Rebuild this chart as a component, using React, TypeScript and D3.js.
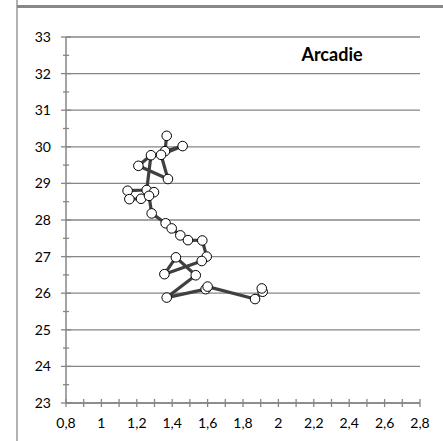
import * as d3 from 'd3';

// points in drawing order (x, depth value)
const xValues = [
  1.369, 1.359, 1.459, 1.337, 1.376, 1.209, 1.28, 1.256, 1.148, 1.158, 1.224, 1.297, 1.269,
  1.284, 1.363, 1.397, 1.446, 1.489, 1.57, 1.595, 1.567, 1.356, 1.421, 1.533, 1.369, 1.589,
  1.6, 1.868, 1.911, 1.906,
];
const yValues = [
  30.3, 29.88, 30.02, 29.78, 29.12, 29.48, 29.77, 28.82, 28.8, 28.57, 28.58, 28.76, 28.66,
  28.18, 27.91, 27.77, 27.58, 27.45, 27.44, 27.0, 26.88, 26.52, 26.98, 26.49, 25.88, 26.11,
  26.18, 25.84, 26.04, 26.13,
];
const xTicks = [0.8, 1, 1.2, 1.4, 1.6, 1.8, 2, 2.2, 2.4, 2.6, 2.8];
const yTicks = [23, 24, 25, 26, 27, 28, 29, 30, 31, 32, 33];
const title = 'Arcadie';

const W = 443;
const H = 441;
const font = 'Lato, Carlito, "Open Sans", sans-serif';
const grey = '#868686';

export default function App() {
  const x = d3.scaleLinear().domain([0.8, 2.8]).range([66, 420]);
  const y = d3.scaleLinear().domain([23, 33]).range([403, 37]);

  const pts = xValues.map((v, i) => [v, yValues[i]] as [number, number]);
  const line = d3
    .line<[number, number]>()
    .x((d) => x(d[0]))
    .y((d) => y(d[1]));

  const xMinor = d3.range(8, 29).map((v) => v / 10);
  const yMinor = d3.range(46, 67).map((v) => v / 2);
  const fmt = (v: number) => String(v).replace('.', ',');

  return (
    <svg
      width={W}
      height={H}
      style={{ position: 'absolute', left: 0, top: 0, background: '#fff' }}
    >
      {/* frame */}
      <line x1={17} x2={17} y1={0} y2={H} stroke="#999" strokeWidth={1.5} />
      <line x1={17} x2={W} y1={6.5} y2={6.5} stroke="#888" strokeWidth={3} />

      {/* gridlines */}
      {yTicks.map((t) => (
        <line key={'g' + t} x1={x(0.8)} x2={x(2.8)} y1={y(t)} y2={y(t)} stroke={grey} strokeWidth={1.3} />
      ))}

      {/* axes */}
      <line x1={x(0.8)} x2={x(0.8)} y1={y(23)} y2={y(33)} stroke={grey} strokeWidth={1.5} />
      <line x1={x(0.8)} x2={x(2.8)} y1={y(23)} y2={y(23)} stroke={grey} strokeWidth={1.5} />
      {yMinor.map((t) => (
        <line key={'ym' + t} x1={x(0.8) - (t % 1 === 0 ? 5 : 3)} x2={x(0.8) + (t % 1 === 0 ? 5 : 3)} y1={y(t)} y2={y(t)} stroke={grey} strokeWidth={1.3} />
      ))}
      {xMinor.map((t) => (
        <line key={'xm' + t} x1={x(t)} x2={x(t)} y1={y(23) - 4} y2={y(23) + 4} stroke={grey} strokeWidth={1.3} />
      ))}

      {yTicks.map((t) => (
        <text key={'yl' + t} x={51} y={y(t)} dy="0.35em" textAnchor="end" fontFamily={font} fontSize={14} fill="#000">
          {t}
        </text>
      ))}
      {xTicks.map((t) => (
        <text key={'xl' + t} x={x(t)} y={y(23) + 25} textAnchor="middle" fontFamily={font} fontSize={14} fill="#000">
          {fmt(t)}
        </text>
      ))}

      <text x={332} y={61} textAnchor="middle" fontFamily={font} fontSize={18} fontWeight="bold" fill="#000">
        {title}
      </text>

      {/* series */}
      <path d={line(pts) || ''} fill="none" stroke="#404040" strokeWidth={3.2} strokeLinejoin="round" />
      {pts.map((d, i) => (
        <circle key={i} cx={x(d[0])} cy={y(d[1])} r={4.8} fill="#fff" stroke="#000" strokeWidth={1} />
      ))}
    </svg>
  );
}
